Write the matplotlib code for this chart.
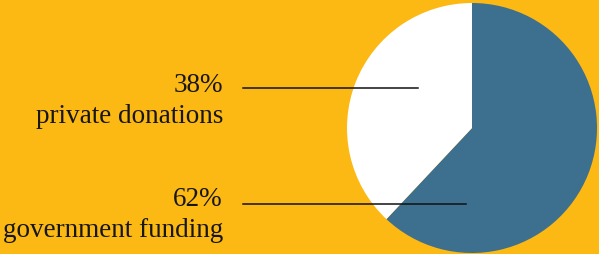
import matplotlib.pyplot as plt

# data
labels = ['government funding', 'private donations']
shares = [62, 38]
colors = ['#3d6f8f', '#ffffff']
bg = '#fcb813'

W, H = 599, 254
fig = plt.figure(figsize=(W / 100, H / 100), dpi=100, facecolor=bg)

# pie axes, placed in pixels
cx, cy, r = 472, 128, 125
ax = fig.add_axes([(cx - r) / W, (H - cy - r) / H, 2 * r / W, 2 * r / H])
ax.pie(shares, colors=colors, startangle=90, counterclock=False,
       wedgeprops={'linewidth': 0})
ax.set_xlim(-1, 1)
ax.set_ylim(-1, 1)
ax.set_aspect('auto')
ax.axis('off')

# overlay for labels and leader lines (pixel coords)
ov = fig.add_axes([0, 0, 1, 1], zorder=5)
ov.set_xlim(0, W)
ov.set_ylim(H, 0)
ov.axis('off')
ov.patch.set_alpha(0)

font = dict(family='Liberation Serif', size=19.5, color='#161616', ha='right')

# private donations
ov.text(223, 92, f'{shares[1]}%', va='baseline', **font)
ov.text(223, 123, labels[1], va='baseline', **font)
ov.plot([243, 418], [88, 88], color='#111111', lw=1.1)

# government funding
ov.text(223, 206, f'{shares[0]}%', va='baseline', **font)
ov.text(223, 237, labels[0], va='baseline', **font)
ov.plot([243, 466], [204, 204], color='#111111', lw=1.1)

fig.savefig('out.png', dpi=100, facecolor=bg)
